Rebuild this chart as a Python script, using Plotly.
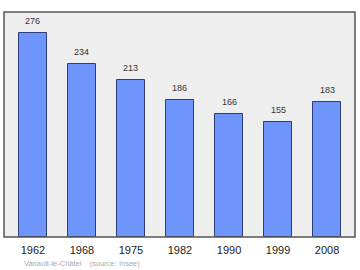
import plotly.graph_objects as go

years = ["1962", "1968", "1975", "1982", "1990", "1999", "2008"]
population = [276, 234, 213, 186, 166, 155, 183]

xpos = list(range(len(years)))

fig = go.Figure()
fig.add_trace(go.Bar(
    x=xpos, y=population, width=0.57,
    marker=dict(color="#6e95fb", line=dict(color="#2e3d78", width=1)),
    hoverinfo="skip",
))

annotations = [dict(
    x=xi, y=v, xref="x", yref="y", text=str(v), showarrow=False,
    yanchor="bottom", yshift=5,
    font=dict(family="Liberation Sans", size=9, color="#333333"),
) for xi, v in zip(xpos, population)]

annotations.append(dict(
    text="Vanault-le-Châtel    (source: Insee)",
    xref="paper", yref="paper", x=0.05, y=-0.09,
    xanchor="left", yanchor="top", showarrow=False,
    font=dict(family="Liberation Sans", size=7.5, color="#aaaaaa"),
))

fig.update_layout(
    width=360, height=270,
    margin=dict(l=4, r=5, t=12, b=33),
    paper_bgcolor="white", plot_bgcolor="#eeeeee",
    showlegend=False,
    bargap=0,
    xaxis=dict(
        range=[-0.59, 6.57], tickvals=xpos, ticktext=years,
        showgrid=False, zeroline=False, ticks="outside", ticklen=3,
        tickcolor="rgba(0,0,0,0)",
        tickfont=dict(family="Liberation Sans", size=11, color="#222222"),
        fixedrange=True,
    ),
    yaxis=dict(
        range=[0, 304.5], showgrid=False, zeroline=False,
        showticklabels=False, fixedrange=True,
    ),
    shapes=[dict(type="rect", xref="paper", yref="paper", x0=0, y0=0, x1=1, y1=1,
                 line=dict(color="#555555", width=1.5))],
    annotations=annotations,
)

fig.write_html("out.html")
